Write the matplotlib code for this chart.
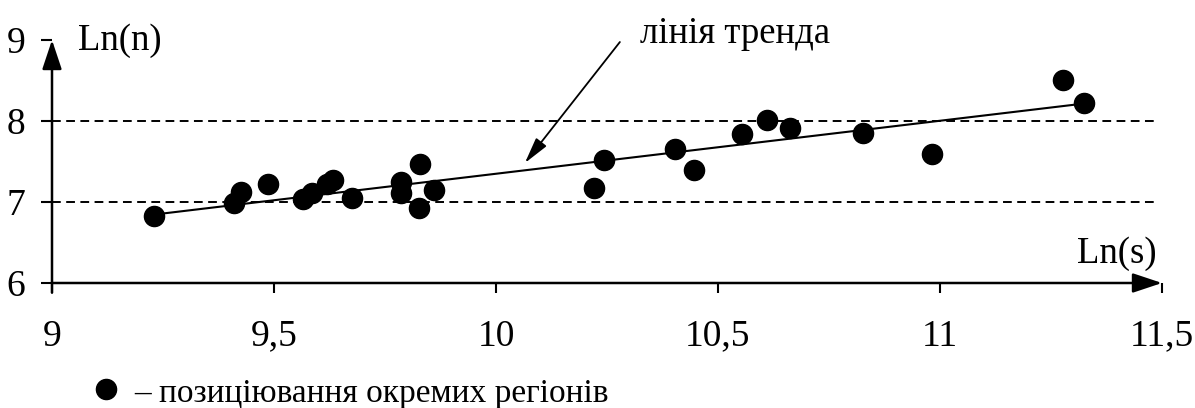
import matplotlib
matplotlib.use("Agg")
import matplotlib.pyplot as plt

plt.rcParams['font.family'] = ['Liberation Serif', 'DejaVu Serif']

# regions: Ln(s), Ln(n)
ln_s = [9.230, 9.410, 9.426, 9.486, 9.565, 9.586, 9.619, 9.633, 9.676,
        9.786, 9.786, 9.829, 9.827, 9.860, 10.221, 10.243, 10.403, 10.446,
        10.554, 10.610, 10.662, 10.827, 10.982, 11.277, 11.324]
ln_n = [6.827, 6.988, 7.123, 7.222, 7.037, 7.111, 7.222, 7.272, 7.049,
        7.247, 7.111, 7.469, 6.926, 7.148, 7.173, 7.519, 7.654, 7.395,
        7.840, 8.012, 7.914, 7.852, 7.593, 8.506, 8.222]

# trend line end points
trend_x = [9.230, 11.324]
trend_y = [6.845, 8.215]

# horizontal reference levels
levels = [7, 8]

xticks = [9, 9.5, 10, 10.5, 11, 11.5]
xtick_labels = ["9", "9,5", "10", "10,5", "11", "11,5"]
yticks = [6, 7, 8, 9]
ytick_labels = ["6", "7", "8", "9"]

fig = plt.figure(figsize=(11.95, 4.08), dpi=100)
ax = fig.add_axes([52 / 1195, 125 / 408, 1110 / 1195, 243 / 408])
ax.set_xlim(9, 11.5)
ax.set_ylim(6, 9)

for lv in levels:
    ax.plot([9, 11.49], [lv, lv], color="black", lw=1.4,
            linestyle=(0, (4.5, 2.8)), clip_on=False)

ax.plot(trend_x, trend_y, color="black", lw=1.5)
ax.plot(ln_s, ln_n, "o", color="black", markersize=14.5, zorder=3)

for s in ["top", "right", "left", "bottom"]:
    ax.spines[s].set_visible(False)

# axes with arrows
ax.annotate("", xy=(1.0, 0), xytext=(0, 0), xycoords="axes fraction",
            arrowprops=dict(arrowstyle="-|>,head_length=0.9,head_width=0.3",
                            color="black", lw=1.8, shrinkA=0, shrinkB=0,
                            mutation_scale=20))
ax.annotate("", xy=(0, 1.0), xytext=(0, -0.04), xycoords="axes fraction",
            arrowprops=dict(arrowstyle="-|>,head_length=0.9,head_width=0.3",
                            color="black", lw=1.8, shrinkA=0, shrinkB=0,
                            mutation_scale=20))

ax.set_xticks(xticks)
ax.set_xticklabels(xtick_labels)
ax.set_yticks(yticks)
ax.set_yticklabels(ytick_labels)
ax.tick_params(axis="x", direction="out", length=7, width=1.5, pad=19,
               labelsize=27)
ax.tick_params(axis="y", direction="out", length=8, width=1.5, pad=11,
               labelsize=27)

ax.text(9.059, 8.877, "Ln(n)", fontsize=26.5, ha="left", va="baseline",
        clip_on=False)
ax.text(11.489, 6.247, "Ln(s)", fontsize=26.5, ha="right", va="baseline",
        clip_on=False)

# trend line label and its arrow
ax.text(10.324, 8.963, "лінія тренда", fontsize=26.5, ha="left",
        va="baseline", clip_on=False)
ax.annotate("", xy=(10.065, 7.481), xytext=(10.279, 8.975),
            annotation_clip=False,
            arrowprops=dict(arrowstyle="-|>,head_length=0.8,head_width=0.2",
                            color="black", lw=1.3, shrinkA=0, shrinkB=0,
                            mutation_scale=20))

# legend line at the bottom
ax.plot([106 / 1195], [1 - 389 / 408], "o", color="black", markersize=14.5,
        transform=fig.transFigure, clip_on=False)
fig.text(134 / 1195, 6 / 408, "– позиціювання окремих регіонів",
         fontsize=24, ha="left", va="baseline")

fig.savefig("out.png", dpi=100)
